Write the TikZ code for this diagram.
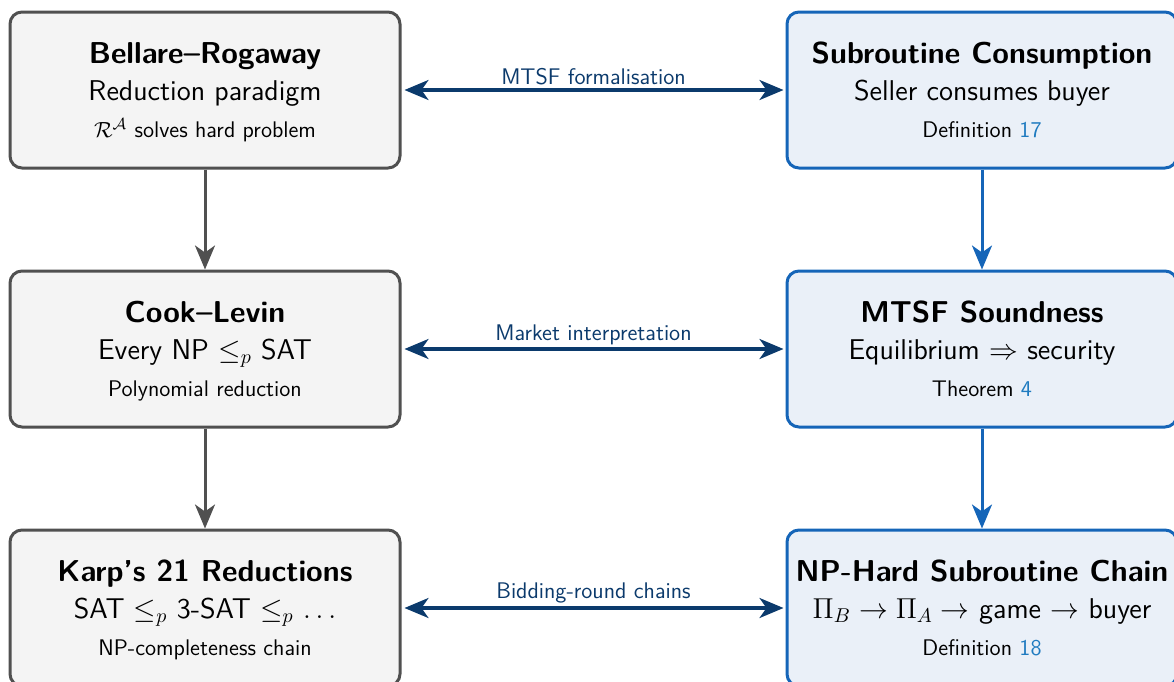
\documentclass[tikz,border=0pt]{standalone}
\usetikzlibrary{arrows.meta,calc}
\definecolor{leftfill}{HTML}{F4F4F4}
\definecolor{leftline}{HTML}{505050}
\definecolor{rightfill}{HTML}{EAF0F8}
\definecolor{rightline}{HTML}{1565B8}
\definecolor{navy}{HTML}{0B3A6C}
\definecolor{reflink}{HTML}{1F7BC0}
\newcommand{\titlefont}{\fontsize{15.1pt}{17pt}\selectfont\sffamily\bfseries}
\newcommand{\mainfont}{\fontsize{14.3pt}{16pt}\selectfont\sffamily}
\newcommand{\notefont}{\fontsize{11.3pt}{13pt}\selectfont\sffamily}
\newcommand{\reflnk}[1]{\textcolor{reflink}{#1}}
\tikzset{
  box/.style={draw, line width=1.5pt, rounded corners=6pt, minimum width=195pt, minimum height=78pt, inner sep=0pt},
  lbox/.style={box, draw=leftline, fill=leftfill},
  rbox/.style={box, draw=rightline, fill=rightfill},
  ttl/.style={anchor=base, font=\titlefont, inner sep=0pt},
  mid/.style={anchor=base, font=\mainfont, inner sep=0pt},
  note/.style={anchor=base, font=\notefont, inner sep=0pt},
  vgray/.style={draw=leftline, line width=1.5pt, -{Stealth[length=12pt,width=10pt,inset=3.5pt]}},
  vblue/.style={draw=rightline, line width=1.5pt, -{Stealth[length=12pt,width=10pt,inset=3.5pt]}},
  link/.style={draw=navy, line width=1.6pt, {Stealth[length=12pt,width=10pt,inset=3.5pt]}-{Stealth[length=12pt,width=10pt,inset=3.5pt]}, shorten <=1.5pt, shorten >=1pt},
  linklabel/.style={above, fill=white, text=navy, font=\notefont, inner sep=1.5pt}
}
% three lines of text inside a box
\newcommand{\boxtext}[4]{%
  \node[ttl] (#1-t) at ($(#1.center)+(0,-26.5)$) {#2};
  \node[mid] (#1-m) at ($(#1.center)+(0,10.5)$) {#3};
  \node[note] (#1-n) at ($(#1.center)+(0,47.5)$) {#4};
}
\begin{document}
\begin{tikzpicture}[x=0.5pt, y=-0.5pt]
\useasboundingbox (0,0) rectangle (1174,681);
% boxes
\node[lbox] (br) at (205,90) {};
\node[lbox] (cl) at (205,349) {};
\node[lbox] (kr) at (205,608) {};
\node[rbox] (sc) at (982,90) {};
\node[rbox] (ms) at (982,349) {};
\node[rbox] (np) at (982,608) {};
% box texts
\boxtext{br}{Bellare--Rogaway}{Reduction paradigm}{$\mathcal{R}^{\mathcal{A}}$ solves hard problem}
\boxtext{cl}{Cook--Levin}{Every NP $\le_p$ SAT}{Polynomial reduction}
\boxtext{kr}{Karp's 21 Reductions}{SAT $\le_p$ 3-SAT $\le_p$ $\dots$}{NP-completeness chain}
\boxtext{sc}{Subroutine Consumption}{Seller consumes buyer}{Definition \reflnk{17}}
\boxtext{ms}{MTSF Soundness}{Equilibrium $\Rightarrow$ security}{Theorem \reflnk{4}}
\boxtext{np}{NP-Hard Subroutine Chain}{$\Pi_B \to \Pi_A \to$ game $\to$ buyer}{Definition \reflnk{18}}
% vertical flow
\draw[vgray] (br.south) -- (cl.north);
\draw[vgray] (cl.south) -- (kr.north);
\draw[vblue] (sc.south) -- (ms.north);
\draw[vblue] (ms.south) -- (np.north);
% correspondences
\draw[link] (br.east) -- node[linklabel] {MTSF formalisation} (sc.west);
\draw[link] (cl.east) -- node[linklabel] {Market interpretation} (ms.west);
\draw[link] (kr.east) -- node[linklabel] {Bidding-round chains} (np.west);
\end{tikzpicture}
\end{document}
